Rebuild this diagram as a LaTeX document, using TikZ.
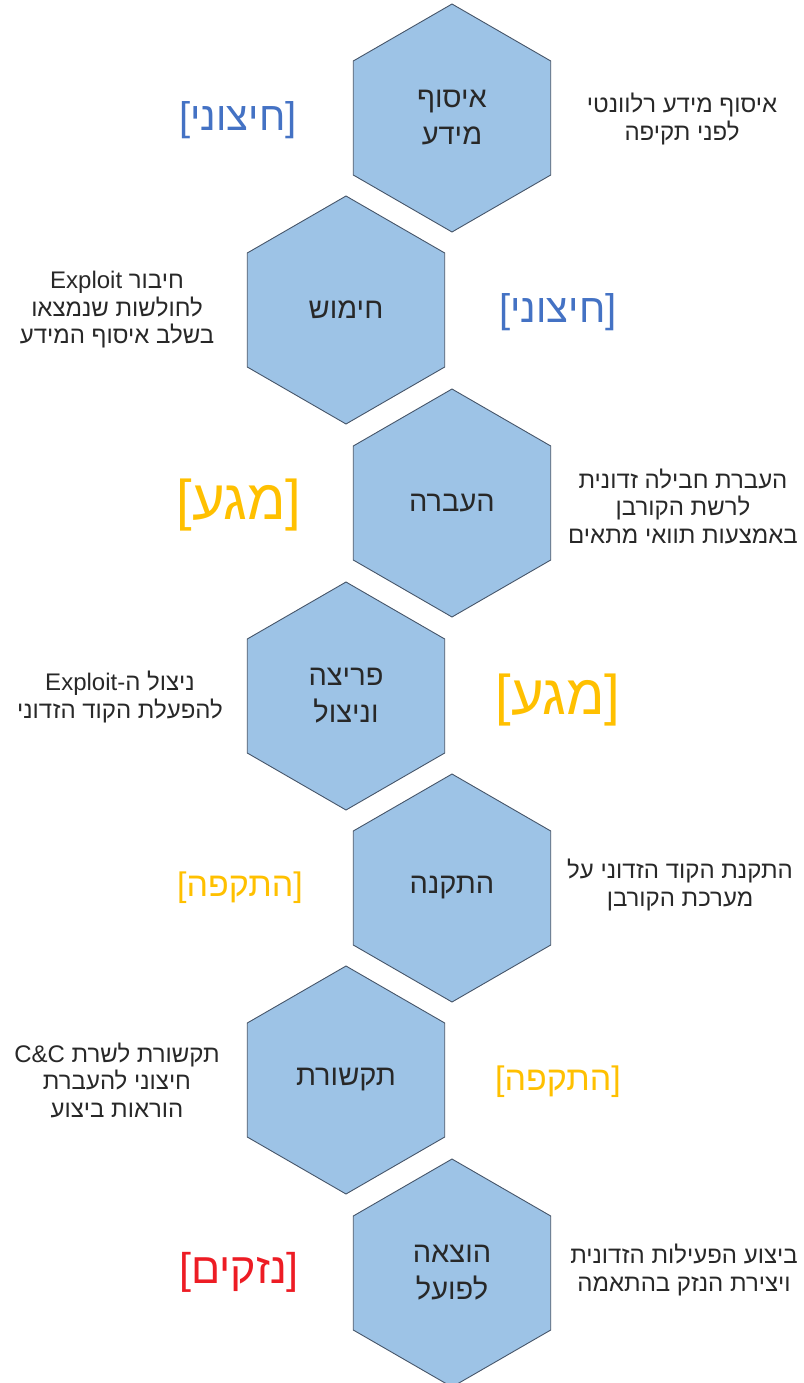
\documentclass[tikz,border=0pt]{standalone}
\usepackage{fontspec}
\usepackage{tikz}
\usetikzlibrary{positioning,shapes.geometric}
\TeXXeTstate=1
\newfontfamily\hebfont[Script=Hebrew]{Liberation Sans}
\newcommand{\rtlline}[1]{\beginR #1\endR}
\definecolor{hexfill}{RGB}{157,195,230}
\definecolor{hexline}{RGB}{70,85,105}
\definecolor{textdark}{RGB}{40,40,40}
\definecolor{tagblue}{RGB}{68,114,196}
\definecolor{tagyellow}{RGB}{255,192,0}
\definecolor{tagred}{RGB}{237,28,36}
\tikzset{
  hexbox/.style={draw=hexline, line width=0.9pt, fill=hexfill, regular polygon, regular polygon sides=6, shape border rotate=30, minimum size=228pt, inner sep=0pt, align=center, text=textdark, font=\hebfont\fontsize{29}{37}\selectfont},
  sidenote/.style={align=center, text=textdark, font=\hebfont\fontsize{24}{27.5}\selectfont},
  phasetag/.style={inner sep=0pt, font=\hebfont\fontsize{#1}{#1}\selectfont}
}

\begin{document}
\begin{tikzpicture}[x=1pt, y=-1pt]
  \useasboundingbox (0,0) rectangle (803,1383);
  % kill chain
  \node[hexbox] (collect) at (452,118) {\rtlline{איסוף}\\\rtlline{מידע}};
  \node[hexbox] (arm) at (346,310) {\rtlline{חימוש}};
  \node[hexbox] (deliver) at (452,503) {\rtlline{העברה}};
  \node[hexbox] (exploit) at (346,696) {\rtlline{פריצה}\\\rtlline{וניצול}};
  \node[hexbox] (install) at (452,888) {\rtlline{התקנה}};
  \node[hexbox] (comm) at (346,1080) {\rtlline{תקשורת}};
  \node[hexbox] (act) at (452,1273) {\rtlline{הוצאה}\\\rtlline{לפועל}};
  % descriptions
  \node[sidenote] (collectnote) at (682,119) {\rtlline{איסוף מידע רלוונטי}\\\rtlline{לפני תקיפה}};
  \node[sidenote] (armnote) at (117,310) {\rtlline{חיבור \beginL Exploit\endL}\\\rtlline{לחולשות שנמצאו}\\\rtlline{בשלב איסוף המידע}};
  \node[sidenote] (delivernote) at (683,506) {\rtlline{העברת חבילה זדונית}\\\rtlline{לרשת הקורבן}\\\rtlline{באמצעות תוואי מתאים}};
  \node[sidenote] (exploitnote) at (120,697) {\rtlline{ניצול ה-\beginL Exploit\endL}\\\rtlline{להפעלת הקוד הזדוני}};
  \node[sidenote] (installnote) at (680,885) {\rtlline{התקנת הקוד הזדוני על}\\\rtlline{מערכת הקורבן}};
  \node[sidenote] (commnote) at (117,1080) {\rtlline{תקשורת לשרת \beginL C\&C\endL}\\\rtlline{חיצוני להעברת}\\\rtlline{הוראות ביצוע}};
  \node[sidenote] (actnote) at (684,1270) {\rtlline{ביצוע הפעילות הזדונית}\\\rtlline{ויצירת הנזק בהתאמה}};
  % phase tags
  \node[phasetag=40, text=tagblue] (outer1) at (238,120) {]\rtlline{חיצוני}[};
  \node[phasetag=40, text=tagblue] (outer2) at (558,312) {]\rtlline{חיצוני}[};
  \node[phasetag=56, text=tagyellow] (touch1) at (239,505) {]\rtlline{מגע}[};
  \node[phasetag=56, text=tagyellow] (touch2) at (558,700) {]\rtlline{מגע}[};
  \node[phasetag=34, text=tagyellow] (attack1) at (240,888) {]\rtlline{התקפה}[};
  \node[phasetag=34, text=tagyellow] (attack2) at (558,1082) {]\rtlline{התקפה}[};
  \node[phasetag=43, text=tagred] (damage) at (239,1272) {]\rtlline{נזקים}[};
\end{tikzpicture}
\end{document}
